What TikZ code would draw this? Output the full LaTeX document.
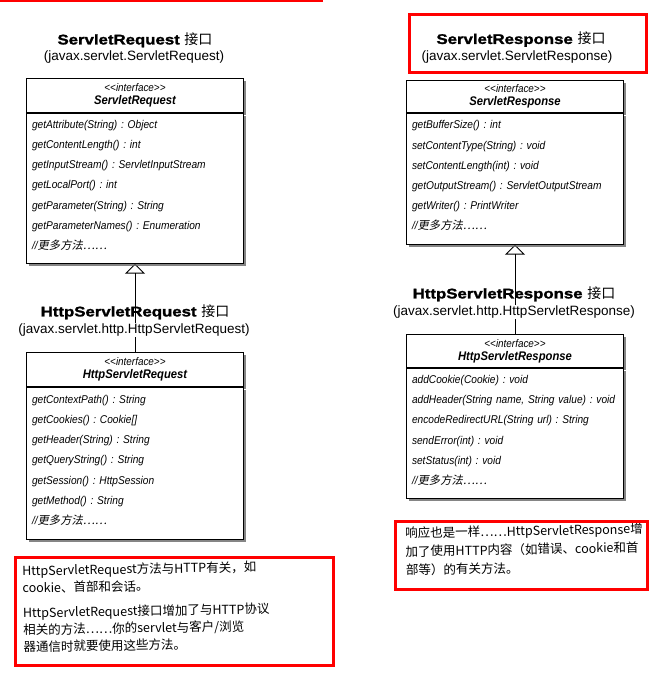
\documentclass[tikz,border=0pt]{standalone}
\usepackage{fontspec}
\setmainfont{Liberation Sans}
\newfontfamily\titlefont[FakeStretch=1.2, BoldFeatures={FakeBold=1.6}]{Liberation Sans}
\newfontfamily\methfont[FakeStretch=0.9]{Liberation Sans}
\newfontfamily\cjk{Noto Sans CJK SC}
\newfontfamily\cjkit[FakeSlant=0.2]{Noto Sans CJK SC}
\usepackage{tikz}
\usetikzlibrary{positioning}
\usetikzlibrary{shadows}
\usetikzlibrary{arrows.meta}
\usetikzlibrary{backgrounds}

\newcommand{\moremeth}{{\methfont //}{\cjkit 更多方法……}}
\newcommand{\ifname}[1]{{\fontsize{11}{12}\methfont\itshape <{}<interface>{}>}\\[1pt]{\fontsize{12.5}{14}\methfont\bfseries\itshape #1}}

\begin{document}
\frenchspacing
\begin{tikzpicture}[
    x=1pt, y=-1pt,
    ifhead/.style={rectangle, draw, line width=0.8pt, fill=white, minimum width=217pt, minimum height=34pt, align=center, inner sep=0pt,
        drop shadow={shadow xshift=2.5pt, shadow yshift=-2.5pt, fill=black!60, opacity=0.8}},
    ifbody/.style={rectangle, draw, line width=0.8pt, fill=white, minimum width=217pt, text width=206pt, align=left, inner xsep=5.5pt, inner ysep=0pt,
        text height=2.5pt, font=\methfont\itshape\fontsize{11.3}{20.2}\selectfont,
        drop shadow={shadow xshift=2.5pt, shadow yshift=-2.5pt, fill=black!60, opacity=0.8}},
    headline/.style={font=\titlefont\bfseries\fontsize{14}{16}\selectfont, inner sep=1pt},
    pkg/.style={font=\fontsize{13.5}{16}\selectfont, fill=white, inner sep=1pt},
    inherit/.style={-{Triangle[open, width=20pt, length=10pt]}, line width=0.9pt},
    redbox/.style={draw=red, line width=3pt},
    note/.style={font=\cjk\fontsize{12.5}{17}\selectfont, align=left, anchor=north west, inner sep=0pt}
]
    \useasboundingbox (0,0) rectangle (655,691);

    % ServletRequest
    \node[headline] (reqTitle) at (135,40) {ServletRequest {\cjk\mdseries 接口}};
    \node[pkg] (reqPkg) at (134,57) {(javax.servlet.ServletRequest)};
    \node[ifhead, anchor=north] (reqHead) at (135,78) {\ifname{ServletRequest}};
    \node[ifbody, minimum height=150pt, below=0pt of reqHead] (reqBody) {
        getAttribute(String) : Object\\
        getContentLength() : int\\
        getInputStream() : ServletInputStream\\
        getLocalPort() : int\\
        getParameter(String) : String\\
        getParameterNames() : Enumeration\\
        \moremeth};

    % HttpServletRequest
    \node[headline] (httpReqTitle) at (135,312) {HttpServletRequest {\cjk\mdseries 接口}};
    \node[pkg] (httpReqPkg) at (134,330) {(javax.servlet.http.HttpServletRequest)};
    \node[ifhead, anchor=north] (httpReqHead) at (135,352) {\ifname{HttpServletRequest}};
    \node[ifbody, minimum height=152pt, below=0pt of httpReqHead] (httpReqBody) {
        getContextPath() : String\\
        getCookies() : Cookie[]\\
        getHeader(String) : String\\
        getQueryString() : String\\
        getSession() : HttpSession\\
        getMethod() : String\\
        \moremeth};

    % ServletResponse
    \node[headline] (resTitle) at (521,39.5) {ServletResponse {\cjk\mdseries 接口}};
    \node[pkg] (resPkg) at (517,57) {(javax.servlet.ServletResponse)};
    \node[ifhead, anchor=north, minimum height=32pt] (resHead) at (515,80) {\ifname{ServletResponse}};
    \node[ifbody, minimum height=131pt, below=0pt of resHead] (resBody) {
        getBufferSize() : int\\
        setContentType(String) : void\\
        setContentLength(int) : void\\
        getOutputStream() : ServletOutputStream\\
        getWriter() : PrintWriter\\
        \moremeth};

    % HttpServletResponse
    \node[headline] (httpResTitle) at (514,294) {HttpServletResponse {\cjk\mdseries 接口}};
    \node[pkg] (httpResPkg) at (514,312) {(javax.servlet.http.HttpServletResponse)};
    \node[ifhead, anchor=north, minimum height=33pt] (httpResHead) at (515,334) {\ifname{HttpServletResponse}};
    \node[ifbody, minimum height=130pt, below=0pt of httpResHead] (httpResBody) {
        addCookie(Cookie) : void\\
        \mbox{addHeader(String name, String value) : void}\\
        encodeRedirectURL(String url) : String\\
        sendError(int) : void\\
        setStatus(int) : void\\
        \moremeth};

    % Inheritance
    \begin{scope}[on background layer]
        \draw[inherit] (httpReqHead) -- (reqBody);
        \draw[inherit] (httpResHead) -- (resBody);
    \end{scope}

    % Notes
    \node[note, rotate=1] (reqNote) at (22,565) {HttpServletRequest方法与HTTP有关，如\\
        cookie、首部和会话。\\[8pt]
        HttpServletRequest接口增加了与HTTP协议\\
        相关的方法……你的servlet与客户/浏览\\
        器通信时就要使用这些方法。};
    \node[note, rotate=1, font=\cjk\fontsize{12.5}{18.5}\selectfont] (resNote) at (405,527) {响应也是一样……HttpServletResponse增\\
        加了使用HTTP内容（如错误、cookie和首\\
        部等）的有关方法。};

    % Red marks
    \draw[red, line width=2.5pt] (0,1.2) -- (323,1.2);
    \draw[redbox] (409.5,14.5) rectangle (646.5,72.5);
    \draw[redbox] (15.5,557.5) rectangle (333.5,665);
    \draw[redbox] (395.5,521.5) rectangle (647.5,589.5);
\end{tikzpicture}
\end{document}
